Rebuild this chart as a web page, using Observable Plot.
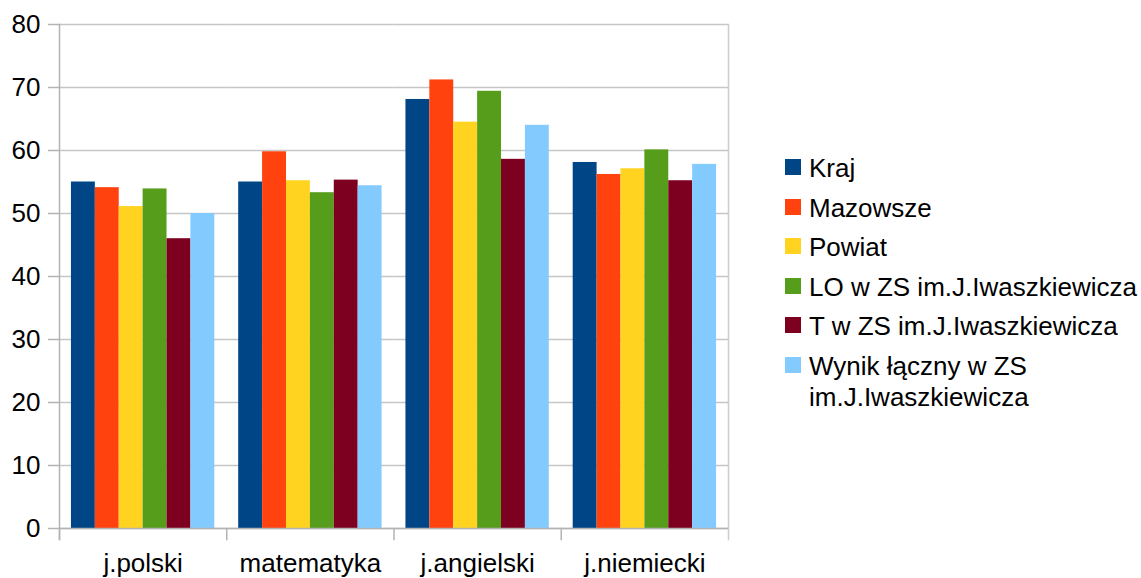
<!DOCTYPE html>
<html>
<head>
<meta charset="utf-8">
<script src="https://cdn.jsdelivr.net/npm/d3@7"></script>
<script src="https://cdn.jsdelivr.net/npm/@observablehq/plot@0.6"></script>
<style>
  html, body { margin: 0; padding: 0; background: #fff; overflow: hidden; }
  #wrap { position: relative; width: 1141px; height: 578px; font-family: "Liberation Sans", Arial, sans-serif; }
  #legend { position: absolute; left: 785px; top: 153px; width: 356px; font-size: 26px; line-height: 31.5px; color: #000; }
  .row { display: flex; align-items: flex-start; margin-bottom: 8px; }
  .sw { width: 16px; height: 16px; margin-top: 6px; margin-right: 8px; flex: none; }
  .lab { width: 340px; }
</style>
</head>
<body>
<div id="wrap"></div>
<script>
const subjects = ["j.polski", "matematyka", "j.angielski", "j.niemiecki"];
const series = ["Kraj", "Mazowsze", "Powiat", "LO w ZS im.J.Iwaszkiewicza", "T w ZS im.J.Iwaszkiewicza", "Wynik łączny w ZS im.J.Iwaszkiewicza"];
const colors = ["#004586", "#ff420e", "#ffd320", "#579d1c", "#7e0021", "#83caff"];
const kraj     = [55.0, 55.0, 68.1, 58.1];
const mazowsze = [54.1, 59.8, 71.2, 56.2];
const powiat   = [51.1, 55.2, 64.5, 57.1];
const lo       = [53.9, 53.3, 69.4, 60.1];
const tech     = [46.0, 55.3, 58.6, 55.2];
const wynik    = [50.0, 54.4, 64.0, 57.8];
const yTicks = [0, 10, 20, 30, 40, 50, 60, 70, 80];

const valuesBySeries = [kraj, mazowsze, powiat, lo, tech, wynik];
const rows = [];
subjects.forEach((s, i) => series.forEach((k, j) => rows.push({subject: s, series: k, value: valuesBySeries[j][i]})));

const W = 1141, H = 578, MT = 24, MB = 50, ML = 59, MR = 413;
const lineColor = "#b3b3b3";

const chart = Plot.plot({
  width: W, height: H,
  marginTop: MT, marginBottom: MB, marginLeft: ML, marginRight: MR,
  style: {fontFamily: "Liberation Sans, Arial, sans-serif", fontSize: "26px", color: "#000", background: "#fff"},
  fx: {domain: subjects, padding: 0, round: false},
  x: {domain: series, paddingInner: 0, paddingOuter: 0.5, round: false, axis: null},
  y: {domain: [0, 80]},
  color: {domain: series, range: colors},
  marks: [
    Plot.gridY(yTicks, {stroke: "#c6c6c6", strokeOpacity: 1, strokeWidth: 1.5}),
    Plot.barY(rows, {fx: "subject", x: "series", y: "value", fill: "series"}),
    Plot.ruleY([0], {stroke: lineColor, strokeWidth: 1.5}),
    Plot.frame({anchor: "left", stroke: lineColor, strokeWidth: 1.5, insetTop: H - MT - MB, insetBottom: -11}),
    Plot.frame({anchor: "left", stroke: lineColor, strokeWidth: 1.5, fx: subjects[0], insetBottom: -11}),
    Plot.frame({anchor: "right", stroke: "#cccccc", strokeWidth: 1.5, fx: subjects[subjects.length - 1], insetBottom: -11}),
    Plot.axisY(yTicks, {tickSize: 11, tickPadding: 8, stroke: lineColor, strokeWidth: 1.5, fontSize: 26, label: null, fill: "#000"}),
    Plot.axisFx({anchor: "bottom", tickSize: 0, tickPadding: 25, fontSize: 26, label: null, fill: "#000"})
  ]
});

const wrap = document.getElementById("wrap");
wrap.appendChild(chart);

const legend = document.createElement("div");
legend.id = "legend";
series.forEach((s, j) => {
  const row = document.createElement("div");
  row.className = "row";
  const sw = document.createElement("div");
  sw.className = "sw";
  sw.style.background = colors[j];
  const lab = document.createElement("div");
  lab.className = "lab";
  lab.textContent = s;
  row.appendChild(sw);
  row.appendChild(lab);
  legend.appendChild(row);
});
wrap.appendChild(legend);
</script>
</body>
</html>
